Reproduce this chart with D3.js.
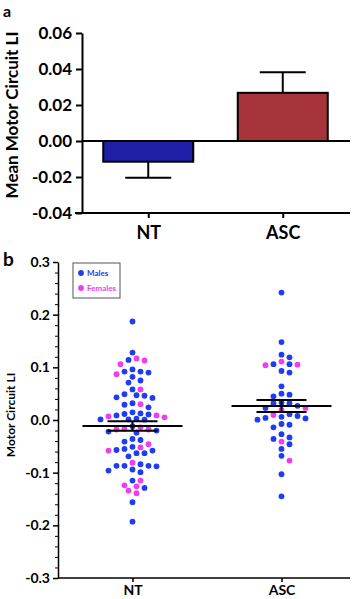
<!DOCTYPE html>
<html>
<head>
<meta charset="utf-8">
<script src="https://cdn.jsdelivr.net/npm/d3@7"></script>
<style>
    body { margin: 0; background: #fff; }
    svg { display: block; font-family: Lato, "Open Sans", sans-serif; font-weight: 700; }
</style>
</head>
<body>
<div id="chart"></div>
<script>
const groups = ["NT", "ASC"];

// motor circuit LI, one value per participant
const ntMales = [0.187, 0.128, 0.114, 0.096, 0.092, 0.090, 0.092, 0.082, 0.075, 0.071,
    0.058, 0.047, 0.049, 0.046, 0.043, 0.042, 0.032, 0.029, 0.024, 0.0145,
    0.0114, 0.0087, 0.0025, 0.0006, 0.001, 0.001, 0.0106, 0.0125,
    -0.020, -0.024, -0.022, -0.012, -0.036, -0.041, -0.038,
    -0.057, -0.058, -0.063, -0.069, -0.063, -0.055, -0.051,
    -0.087, -0.087, -0.094, -0.099, -0.096, -0.088, -0.087, -0.084,
    -0.115, -0.129, -0.156, -0.193];
const ntFemales = [0.117, 0.113, 0.106, 0.087, 0.058, 0.030, 0.0068, 0.005, 0.0087,
    -0.014, -0.017, -0.018, -0.018, -0.046, -0.052, -0.058, -0.081,
    -0.115, -0.124, -0.126, -0.134, -0.139];
const ascMales = [0.242, 0.148, 0.124, 0.119, 0.106, 0.106, 0.090, 0.093, 0.064, 0.050,
    0.045, 0.048, 0.033, 0.032, 0.027, 0.032, 0.023, 0.006, 0.0006, 0.003,
    0.004, 0.0076, 0.011, -0.009, -0.014, -0.0076, -0.027, -0.033, -0.036, -0.046,
    -0.055, -0.068, -0.103, -0.145];
const ascFemales = [0.111, 0.104, 0.105, 0.023, 0.019, 0.0095, -0.041, -0.077];

const ticksA = [-0.04, -0.02, 0, 0.02, 0.04, 0.06];
const ticksB = [-0.3, -0.2, -0.1, 0, 0.1, 0.2, 0.3];

const barColors = {NT: "#1f1fa8", ASC: "#a6343a"};
const sexColors = {Males: "#1e3cf2", Females: "#f03cf0"};

const points = [
    ...ntMales.map(v => ({group: "NT", sex: "Males", v})),
    ...ntFemales.map(v => ({group: "NT", sex: "Females", v})),
    ...ascMales.map(v => ({group: "ASC", sex: "Males", v})),
    ...ascFemales.map(v => ({group: "ASC", sex: "Females", v}))
];

const stats = groups.map(g => {
    const vals = points.filter(d => d.group === g).map(d => d.v);
    const mean = d3.mean(vals);
    const sem = d3.deviation(vals) / Math.sqrt(vals.length);
    return {group: g, mean, sem};
});

const width = 358, height = 599;
const svg = d3.select("#chart").append("svg")
    .attr("width", width)
    .attr("height", height);

const styleText = (sel, size) => sel
    .attr("font-size", size)
    .attr("font-family", "Lato, sans-serif")
    .attr("font-weight", 700)
    .attr("fill", "#000");

// ---------- panel a ----------

const xA = d3.scalePoint().domain(groups).range([81, 350]).padding(0.5);
const yA = d3.scaleLinear().domain([-0.04, 0.06]).range([213, 33]);
const barW = 90;
const capA = 23;

svg.append("text").attr("x", 3).attr("y", 17).attr("font-size", 16).text("a");

svg.append("g")
    .attr("transform", "translate(82,0)")
    .call(d3.axisLeft(yA).tickValues(ticksA).tickSize(6).tickSizeOuter(0).tickPadding(4)
        .tickFormat(d => d.toFixed(2)))
    .call(g => styleText(g.selectAll("text"), 17))
    .call(g => g.selectAll("line, path").attr("stroke", "#000").attr("stroke-width", 2));

svg.append("text")
    .attr("transform", `translate(18 ${(yA(-0.04) + yA(0.06)) / 2 - 8}) rotate(-90)`)
    .attr("text-anchor", "middle")
    .attr("font-size", 17)
    .text("Mean Motor Circuit LI");

const bars = svg.append("g");
bars.selectAll("rect")
    .data(stats)
    .join("rect")
    .attr("x", d => xA(d.group) - barW / 2)
    .attr("width", barW)
    .attr("y", d => yA(Math.max(0, d.mean)))
    .attr("height", d => Math.abs(yA(d.mean) - yA(0)))
    .attr("fill", d => barColors[d.group])
    .attr("stroke", "#000")
    .attr("stroke-width", 2);

// one-sided error bars
bars.selectAll(".stem")
    .data(stats)
    .join("line")
    .attr("class", "stem")
    .attr("x1", d => xA(d.group)).attr("x2", d => xA(d.group))
    .attr("y1", d => yA(d.mean))
    .attr("y2", d => yA(d.mean + Math.sign(d.mean) * d.sem))
    .attr("stroke", "#000").attr("stroke-width", 2);

bars.selectAll(".cap")
    .data(stats)
    .join("line")
    .attr("class", "cap")
    .attr("x1", d => xA(d.group) - capA).attr("x2", d => xA(d.group) + capA)
    .attr("y1", d => yA(d.mean + Math.sign(d.mean) * d.sem))
    .attr("y2", d => yA(d.mean + Math.sign(d.mean) * d.sem))
    .attr("stroke", "#000").attr("stroke-width", 2);

// zero line
svg.append("line")
    .attr("x1", 82).attr("x2", 350)
    .attr("y1", yA(0)).attr("y2", yA(0))
    .attr("stroke", "#000").attr("stroke-width", 2);

// x axis a
svg.append("g")
    .attr("transform", `translate(0 ${yA(-0.04)})`)
    .call(d3.axisBottom(xA).tickSize(5).tickSizeOuter(0).tickPadding(8))
    .call(g => g.select(".domain").attr("d", "M75,0H350"))
    .call(g => styleText(g.selectAll("text"), 18))
    .call(g => g.selectAll("line, path").attr("stroke", "#000").attr("stroke-width", 2));

// ---------- panel b ----------

const xB = d3.scalePoint().domain(groups).range([58, 356]).padding(0.5);
const yB = d3.scaleLinear().domain([-0.3, 0.3]).range([578, 262]);
const r = 2.9;

svg.append("text").attr("x", 3).attr("y", 266).attr("font-size", 19).text("b");

const minorTicks = d3.range(-30, 31, 2).filter(d => d % 10 !== 0).map(d => d / 100);
svg.append("g")
    .attr("transform", "translate(58,0)")
    .call(d3.axisLeft(yB).tickValues(minorTicks).tickSize(3).tickSizeOuter(0).tickFormat(""))
    .call(g => g.select(".domain").remove())
    .call(g => g.selectAll("line").attr("stroke", "#000").attr("stroke-width", 1));

svg.append("g")
    .attr("transform", "translate(58,0)")
    .call(d3.axisLeft(yB).tickValues(ticksB).tickSize(5).tickSizeOuter(0).tickPadding(3)
        .tickFormat(d => d.toFixed(1)))
    .call(g => styleText(g.selectAll("text"), 14))
    .call(g => g.selectAll("line, path").attr("stroke", "#000").attr("stroke-width", 1.5));

svg.append("text")
    .attr("transform", `translate(15 ${(yB(-0.3) + yB(0.3)) / 2 - 5}) rotate(-90)`)
    .attr("text-anchor", "middle")
    .attr("font-size", 12)
    .text("Motor Circuit LI");

svg.append("g")
    .attr("transform", `translate(0 ${yB(-0.3)})`)
    .call(d3.axisBottom(xB).tickSize(4).tickSizeOuter(0).tickPadding(3))
    .call(g => g.select(".domain").attr("d", "M58,0H350"))
    .call(g => styleText(g.selectAll("text"), 14))
    .call(g => g.selectAll("line, path").attr("stroke", "#000").attr("stroke-width", 1.5));

// simple grid beeswarm: points sorted by value, pushed sideways in 4px steps until clear
function swarm(data, cx, step, minDist) {
    const placed = [];
    const sorted = data.slice().sort((a, b) => d3.descending(a.v, b.v));
    sorted.forEach(d => {
        const y = yB(d.v);
        for (let k = 0; k < 60; k++) {
            const off = k === 0 ? 0 : Math.ceil(k / 2) * step * (k % 2 ? 1 : -1);
            const x = cx + off;
            const hit = placed.some(p => (p.x - x) ** 2 + (p.y - y) ** 2 < minDist * minDist);
            if (!hit) {
                d.x = x;
                d.y = y;
                placed.push(d);
                break;
            }
        }
    });
    return sorted;
}

const swarmed = groups.flatMap(g => swarm(points.filter(d => d.group === g), xB(g), 4, 6.6));

svg.append("g")
    .selectAll("circle")
    .data(swarmed)
    .join("circle")
    .attr("cx", d => d.x)
    .attr("cy", d => d.y)
    .attr("r", r)
    .attr("fill", d => sexColors[d.sex]);

// mean +- sem
const meanW = 50, semW = 25;
const ms = svg.append("g").attr("stroke", "#000").attr("stroke-width", 2);
ms.selectAll(".mean")
    .data(stats)
    .join("line")
    .attr("x1", d => xB(d.group) - meanW).attr("x2", d => xB(d.group) + meanW)
    .attr("y1", d => yB(d.mean)).attr("y2", d => yB(d.mean));
ms.selectAll(".semv")
    .data(stats)
    .join("line")
    .attr("class", "semv")
    .attr("x1", d => xB(d.group)).attr("x2", d => xB(d.group))
    .attr("y1", d => yB(d.mean - d.sem)).attr("y2", d => yB(d.mean + d.sem));
ms.selectAll(".semtop")
    .data(stats)
    .join("line")
    .attr("class", "semtop")
    .attr("x1", d => xB(d.group) - semW).attr("x2", d => xB(d.group) + semW)
    .attr("y1", d => yB(d.mean + d.sem)).attr("y2", d => yB(d.mean + d.sem));
ms.selectAll(".sembot")
    .data(stats)
    .join("line")
    .attr("class", "sembot")
    .attr("x1", d => xB(d.group) - semW).attr("x2", d => xB(d.group) + semW)
    .attr("y1", d => yB(d.mean - d.sem)).attr("y2", d => yB(d.mean - d.sem));

// legend
const legend = svg.append("g").attr("transform", "translate(73 263)");
legend.append("rect")
    .attr("width", 47).attr("height", 35)
    .attr("fill", "#fff").attr("stroke", "#555").attr("stroke-width", 1);
const sexes = ["Males", "Females"];
legend.selectAll("circle")
    .data(sexes)
    .join("circle")
    .attr("cx", 8)
    .attr("cy", (d, i) => 10 + i * 15)
    .attr("r", r)
    .attr("fill", d => sexColors[d]);
legend.selectAll("text")
    .data(sexes)
    .join("text")
    .attr("x", 14)
    .attr("y", (d, i) => 13 + i * 15)
    .attr("font-size", 8)
    .attr("fill", d => sexColors[d])
    .text(d => d);
</script>
</body>
</html>
